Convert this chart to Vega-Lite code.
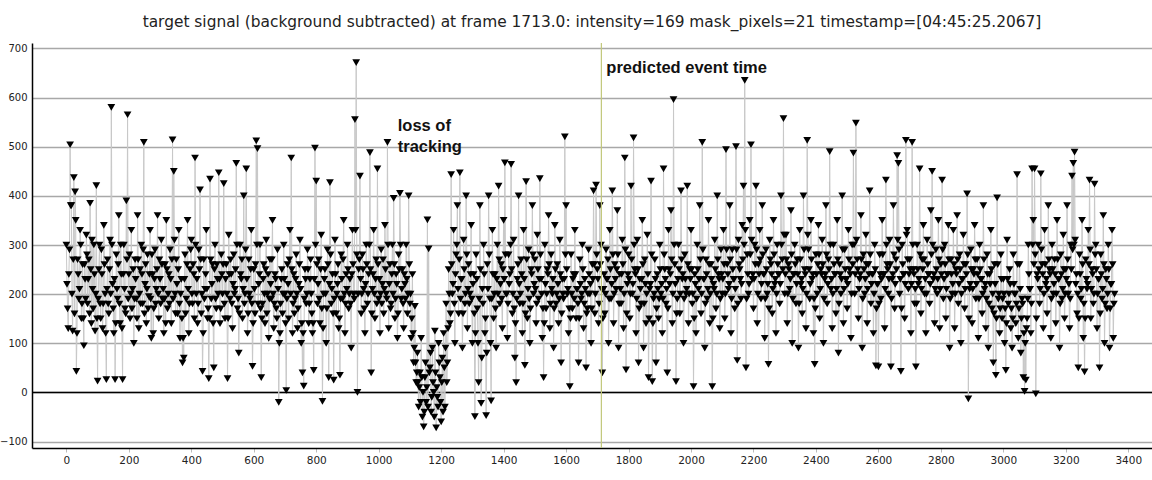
{
  "$schema": "https://vega.github.io/schema/vega-lite/v6.json",
  "description": "target signal with event marker",
  "autosize": {"type": "none"},
  "padding": {"left": 32, "top": 43, "right": 0, "bottom": 32},
  "width": 1120,
  "height": 405,
  "background": "white",
  "title": {
    "text": "target signal (background subtracted) at frame 1713.0: intensity=169 mask_pixels=21 timestamp=[04:45:25.2067]",
    "font": "DejaVu Sans",
    "fontSize": 15.4,
    "fontWeight": "normal",
    "color": "#222222",
    "anchor": "middle",
    "offset": 12
  },
  "datasets": {
    "signal": [
      {"f":0,"v":300},{"f":4,"v":170},{"f":8,"v":240},{"f":12,"v":504},{"f":16,"v":380},{"f":20,"v":125},{"f":24,"v":437},{"f":28,"v":408},{"f":32,"v":43},{"f":36,"v":270},{"f":40,"v":190},{"f":44,"v":330},{"f":48,"v":150},{"f":52,"v":260},{"f":56,"v":95},{"f":60,"v":230},{"f":64,"v":320},{"f":68,"v":180},{"f":72,"v":270},{"f":76,"v":385},{"f":80,"v":140},{"f":84,"v":210},{"f":88,"v":300},{"f":92,"v":125},{"f":96,"v":421},
      {"f":100,"v":23},{"f":104,"v":250},{"f":108,"v":180},{"f":112,"v":290},{"f":116,"v":130},{"f":120,"v":340},{"f":124,"v":200},{"f":128,"v":26},{"f":132,"v":270},{"f":136,"v":160},{"f":140,"v":310},{"f":144,"v":580},{"f":148,"v":220},{"f":152,"v":120},{"f":156,"v":26},{"f":160,"v":280},{"f":164,"v":190},{"f":168,"v":360},{"f":172,"v":140},{"f":176,"v":240},{"f":180,"v":26},{"f":184,"v":300},{"f":188,"v":170},{"f":192,"v":390},{"f":196,"v":565},
      {"f":200,"v":240},{"f":204,"v":150},{"f":208,"v":330},{"f":212,"v":210},{"f":216,"v":100},{"f":220,"v":270},{"f":224,"v":190},{"f":228,"v":360},{"f":232,"v":130},{"f":236,"v":250},{"f":240,"v":300},{"f":244,"v":180},{"f":248,"v":509},{"f":252,"v":220},{"f":256,"v":140},{"f":260,"v":280},{"f":264,"v":195},{"f":268,"v":330},{"f":272,"v":110},{"f":276,"v":240},{"f":280,"v":170},{"f":284,"v":290},{"f":288,"v":210},{"f":292,"v":360},{"f":296,"v":150},
      {"f":300,"v":230},{"f":304,"v":310},{"f":308,"v":190},{"f":312,"v":120},{"f":316,"v":260},{"f":320,"v":350},{"f":324,"v":170},{"f":328,"v":240},{"f":332,"v":290},{"f":336,"v":140},{"f":340,"v":514},{"f":344,"v":450},{"f":348,"v":200},{"f":352,"v":270},{"f":356,"v":160},{"f":360,"v":330},{"f":364,"v":110},{"f":368,"v":230},{"f":372,"v":60},{"f":376,"v":70},{"f":380,"v":280},{"f":384,"v":190},{"f":388,"v":350},{"f":392,"v":120},{"f":396,"v":250},
      {"f":400,"v":310},{"f":404,"v":180},{"f":408,"v":240},{"f":412,"v":477},{"f":416,"v":200},{"f":420,"v":140},{"f":424,"v":290},{"f":428,"v":412},{"f":432,"v":160},{"f":436,"v":43},{"f":440,"v":270},{"f":444,"v":210},{"f":448,"v":330},{"f":452,"v":150},{"f":456,"v":28},{"f":460,"v":434},{"f":464,"v":190},{"f":468,"v":260},{"f":472,"v":50},{"f":476,"v":300},{"f":480,"v":170},{"f":484,"v":230},{"f":488,"v":447},{"f":492,"v":140},{"f":496,"v":280},
      {"f":500,"v":200},{"f":504,"v":425},{"f":508,"v":150},{"f":512,"v":260},{"f":516,"v":28},{"f":520,"v":320},{"f":524,"v":190},{"f":528,"v":240},{"f":532,"v":130},{"f":536,"v":280},{"f":540,"v":210},{"f":544,"v":466},{"f":548,"v":170},{"f":552,"v":80},{"f":556,"v":300},{"f":560,"v":230},{"f":564,"v":150},{"f":568,"v":400},{"f":572,"v":200},{"f":576,"v":455},{"f":580,"v":120},{"f":584,"v":270},{"f":588,"v":190},{"f":592,"v":330},{"f":596,"v":53},
      {"f":600,"v":250},{"f":604,"v":160},{"f":608,"v":512},{"f":612,"v":496},{"f":616,"v":220},{"f":620,"v":300},{"f":624,"v":30},{"f":628,"v":180},{"f":632,"v":260},{"f":636,"v":140},{"f":640,"v":310},{"f":644,"v":200},{"f":648,"v":110},{"f":652,"v":270},{"f":656,"v":190},{"f":660,"v":350},{"f":664,"v":130},{"f":668,"v":240},{"f":672,"v":170},{"f":676,"v":290},{"f":680,"v":-20},{"f":684,"v":120},{"f":688,"v":230},{"f":692,"v":160},{"f":696,"v":300},
      {"f":700,"v":200},{"f":704,"v":4},{"f":708,"v":260},{"f":712,"v":150},{"f":716,"v":330},{"f":720,"v":477},{"f":724,"v":120},{"f":728,"v":240},{"f":732,"v":190},{"f":736,"v":280},{"f":740,"v":130},{"f":744,"v":220},{"f":748,"v":310},{"f":752,"v":100},{"f":756,"v":40},{"f":760,"v":13},{"f":764,"v":250},{"f":768,"v":180},{"f":772,"v":290},{"f":776,"v":140},{"f":780,"v":230},{"f":784,"v":200},{"f":788,"v":120},{"f":792,"v":45},{"f":796,"v":497},
      {"f":800,"v":430},{"f":804,"v":180},{"f":808,"v":270},{"f":812,"v":140},{"f":816,"v":320},{"f":820,"v":-18},{"f":824,"v":200},{"f":828,"v":250},{"f":832,"v":100},{"f":836,"v":290},{"f":840,"v":30},{"f":844,"v":427},{"f":848,"v":180},{"f":852,"v":240},{"f":856,"v":25},{"f":860,"v":310},{"f":864,"v":160},{"f":868,"v":220},{"f":872,"v":130},{"f":876,"v":35},{"f":880,"v":280},{"f":884,"v":190},{"f":888,"v":350},{"f":892,"v":120},{"f":896,"v":240},
      {"f":900,"v":300},{"f":904,"v":170},{"f":908,"v":230},{"f":912,"v":90},{"f":916,"v":330},{"f":920,"v":200},{"f":924,"v":555},{"f":928,"v":671},{"f":932,"v":0},{"f":936,"v":250},{"f":940,"v":440},{"f":944,"v":160},{"f":948,"v":280},{"f":952,"v":210},{"f":956,"v":120},{"f":960,"v":300},{"f":964,"v":180},{"f":968,"v":240},{"f":972,"v":488},{"f":976,"v":40},{"f":980,"v":210},{"f":984,"v":330},{"f":988,"v":150},{"f":992,"v":270},{"f":996,"v":455},
      {"f":1000,"v":190},{"f":1004,"v":120},{"f":1008,"v":290},{"f":1012,"v":220},{"f":1016,"v":160},{"f":1020,"v":340},{"f":1024,"v":200},{"f":1028,"v":509},{"f":1032,"v":130},{"f":1036,"v":260},{"f":1040,"v":180},{"f":1044,"v":300},{"f":1048,"v":395},{"f":1052,"v":150},{"f":1056,"v":240},{"f":1060,"v":110},{"f":1064,"v":280},{"f":1068,"v":405},{"f":1072,"v":190},{"f":1076,"v":250},{"f":1080,"v":130},{"f":1084,"v":220},{"f":1088,"v":300},{"f":1092,"v":160},{"f":1096,"v":400},
      {"f":1100,"v":180},{"f":1104,"v":110},{"f":1108,"v":240},{"f":1112,"v":60},{"f":1116,"v":175},{"f":1120,"v":20},{"f":1124,"v":80},{"f":1128,"v":-30},{"f":1132,"v":40},{"f":1136,"v":110},{"f":1140,"v":-50},{"f":1144,"v":-70},{"f":1148,"v":30},{"f":1152,"v":-20},{"f":1156,"v":351},{"f":1160,"v":292},{"f":1164,"v":50},{"f":1168,"v":-40},{"f":1172,"v":90},{"f":1176,"v":0},{"f":1180,"v":125},{"f":1184,"v":-72},{"f":1188,"v":-10},{"f":1192,"v":100},{"f":1196,"v":30},
      {"f":1200,"v":-60},{"f":1204,"v":70},{"f":1208,"v":120},{"f":1212,"v":-30},{"f":1216,"v":180},{"f":1220,"v":60},{"f":1224,"v":250},{"f":1228,"v":140},{"f":1232,"v":443},{"f":1236,"v":200},{"f":1240,"v":330},{"f":1244,"v":100},{"f":1248,"v":280},{"f":1252,"v":380},{"f":1256,"v":160},{"f":1260,"v":447},{"f":1264,"v":230},{"f":1268,"v":90},{"f":1272,"v":310},{"f":1276,"v":180},{"f":1280,"v":400},{"f":1284,"v":130},{"f":1288,"v":260},{"f":1292,"v":200},{"f":1296,"v":340},
      {"f":1300,"v":100},{"f":1304,"v":240},{"f":1308,"v":-49},{"f":1312,"v":280},{"f":1316,"v":170},{"f":1320,"v":20},{"f":1324,"v":380},{"f":1328,"v":-22},{"f":1332,"v":210},{"f":1336,"v":300},{"f":1340,"v":120},{"f":1344,"v":-47},{"f":1348,"v":260},{"f":1352,"v":400},{"f":1356,"v":190},{"f":1360,"v":-17},{"f":1364,"v":330},{"f":1368,"v":150},{"f":1372,"v":240},{"f":1376,"v":90},{"f":1380,"v":300},{"f":1384,"v":420},{"f":1388,"v":180},{"f":1392,"v":260},{"f":1396,"v":130},
      {"f":1400,"v":350},{"f":1404,"v":467},{"f":1408,"v":200},{"f":1412,"v":110},{"f":1416,"v":280},{"f":1420,"v":240},{"f":1424,"v":464},{"f":1428,"v":160},{"f":1432,"v":310},{"f":1436,"v":70},{"f":1440,"v":20},{"f":1444,"v":230},{"f":1448,"v":400},{"f":1452,"v":180},{"f":1456,"v":270},{"f":1460,"v":120},{"f":1464,"v":330},{"f":1468,"v":55},{"f":1472,"v":429},{"f":1476,"v":150},{"f":1480,"v":290},{"f":1484,"v":100},{"f":1488,"v":250},{"f":1492,"v":380},{"f":1496,"v":200},
      {"f":1500,"v":270},{"f":1504,"v":140},{"f":1508,"v":320},{"f":1512,"v":190},{"f":1516,"v":435},{"f":1520,"v":230},{"f":1524,"v":110},{"f":1528,"v":30},{"f":1532,"v":300},{"f":1536,"v":170},{"f":1540,"v":250},{"f":1544,"v":360},{"f":1548,"v":130},{"f":1552,"v":280},{"f":1556,"v":200},{"f":1560,"v":90},{"f":1564,"v":340},{"f":1568,"v":180},{"f":1572,"v":260},{"f":1576,"v":140},{"f":1580,"v":310},{"f":1584,"v":60},{"f":1588,"v":230},{"f":1592,"v":190},{"f":1596,"v":520},
      {"f":1600,"v":380},{"f":1604,"v":200},{"f":1608,"v":120},{"f":1612,"v":12},{"f":1616,"v":280},{"f":1620,"v":170},{"f":1624,"v":240},{"f":1628,"v":330},{"f":1632,"v":150},{"f":1636,"v":210},{"f":1640,"v":60},{"f":1644,"v":270},{"f":1648,"v":190},{"f":1652,"v":300},{"f":1656,"v":130},{"f":1660,"v":230},{"f":1664,"v":50},{"f":1668,"v":170},{"f":1672,"v":290},{"f":1676,"v":200},{"f":1680,"v":100},{"f":1684,"v":260},{"f":1688,"v":410},{"f":1692,"v":160},{"f":1696,"v":422},
      {"f":1700,"v":250},{"f":1704,"v":140},{"f":1708,"v":380},{"f":1712,"v":300},{"f":1716,"v":40},{"f":1720,"v":210},{"f":1724,"v":160},{"f":1728,"v":290},{"f":1732,"v":230},{"f":1736,"v":100},{"f":1740,"v":330},{"f":1744,"v":190},{"f":1748,"v":410},{"f":1752,"v":140},{"f":1756,"v":260},{"f":1760,"v":210},{"f":1764,"v":370},{"f":1768,"v":90},{"f":1772,"v":240},{"f":1776,"v":180},{"f":1780,"v":310},{"f":1784,"v":130},{"f":1788,"v":477},{"f":1792,"v":46},{"f":1796,"v":220},
      {"f":1800,"v":280},{"f":1804,"v":150},{"f":1808,"v":420},{"f":1812,"v":200},{"f":1816,"v":518},{"f":1820,"v":250},{"f":1824,"v":120},{"f":1828,"v":310},{"f":1832,"v":60},{"f":1836,"v":230},{"f":1840,"v":180},{"f":1844,"v":350},{"f":1848,"v":90},{"f":1852,"v":270},{"f":1856,"v":140},{"f":1860,"v":320},{"f":1864,"v":30},{"f":1868,"v":210},{"f":1872,"v":430},{"f":1876,"v":22},{"f":1880,"v":190},{"f":1884,"v":270},{"f":1888,"v":60},{"f":1892,"v":240},{"f":1896,"v":150},
      {"f":1900,"v":300},{"f":1904,"v":200},{"f":1908,"v":120},{"f":1912,"v":455},{"f":1916,"v":250},{"f":1920,"v":180},{"f":1924,"v":40},{"f":1928,"v":330},{"f":1932,"v":220},{"f":1936,"v":370},{"f":1940,"v":140},{"f":1944,"v":596},{"f":1948,"v":260},{"f":1952,"v":22},{"f":1956,"v":190},{"f":1960,"v":300},{"f":1964,"v":160},{"f":1968,"v":410},{"f":1972,"v":230},{"f":1976,"v":100},{"f":1980,"v":280},{"f":1984,"v":200},{"f":1988,"v":420},{"f":1992,"v":140},{"f":1996,"v":250},
      {"f":2000,"v":330},{"f":2004,"v":180},{"f":2008,"v":12},{"f":2012,"v":240},{"f":2016,"v":120},{"f":2020,"v":300},{"f":2024,"v":210},{"f":2028,"v":380},{"f":2032,"v":160},{"f":2036,"v":509},{"f":2040,"v":230},{"f":2044,"v":90},{"f":2048,"v":270},{"f":2052,"v":190},{"f":2056,"v":350},{"f":2060,"v":140},{"f":2064,"v":260},{"f":2068,"v":12},{"f":2072,"v":220},{"f":2076,"v":310},{"f":2080,"v":170},{"f":2084,"v":400},{"f":2088,"v":240},{"f":2092,"v":130},{"f":2096,"v":290},
      {"f":2100,"v":200},{"f":2104,"v":330},{"f":2108,"v":150},{"f":2112,"v":494},{"f":2116,"v":260},{"f":2120,"v":210},{"f":2124,"v":380},{"f":2128,"v":120},{"f":2132,"v":290},{"f":2136,"v":230},{"f":2140,"v":170},{"f":2144,"v":500},{"f":2148,"v":65},{"f":2152,"v":310},{"f":2156,"v":250},{"f":2160,"v":190},{"f":2164,"v":340},{"f":2168,"v":420},{"f":2172,"v":635},{"f":2176,"v":50},{"f":2180,"v":280},{"f":2184,"v":200},{"f":2188,"v":350},{"f":2192,"v":504},{"f":2196,"v":230},
      {"f":2200,"v":170},{"f":2204,"v":300},{"f":2208,"v":420},{"f":2212,"v":140},{"f":2216,"v":260},{"f":2220,"v":330},{"f":2224,"v":190},{"f":2228,"v":380},{"f":2232,"v":240},{"f":2236,"v":110},{"f":2240,"v":290},{"f":2244,"v":200},{"f":2248,"v":57},{"f":2252,"v":310},{"f":2256,"v":260},{"f":2260,"v":160},{"f":2264,"v":350},{"f":2268,"v":220},{"f":2272,"v":120},{"f":2276,"v":300},{"f":2280,"v":240},{"f":2284,"v":180},{"f":2288,"v":400},{"f":2292,"v":270},{"f":2296,"v":557},
      {"f":2300,"v":200},{"f":2304,"v":320},{"f":2308,"v":140},{"f":2312,"v":260},{"f":2316,"v":210},{"f":2320,"v":370},{"f":2324,"v":100},{"f":2328,"v":240},{"f":2332,"v":300},{"f":2336,"v":180},{"f":2340,"v":270},{"f":2344,"v":90},{"f":2348,"v":330},{"f":2352,"v":220},{"f":2356,"v":160},{"f":2360,"v":400},{"f":2364,"v":250},{"f":2368,"v":130},{"f":2372,"v":513},{"f":2376,"v":290},{"f":2380,"v":190},{"f":2384,"v":350},{"f":2388,"v":230},{"f":2392,"v":120},{"f":2396,"v":57},
      {"f":2400,"v":280},{"f":2404,"v":200},{"f":2408,"v":340},{"f":2412,"v":150},{"f":2416,"v":250},{"f":2420,"v":310},{"f":2424,"v":100},{"f":2428,"v":230},{"f":2432,"v":380},{"f":2436,"v":180},{"f":2440,"v":270},{"f":2444,"v":490},{"f":2448,"v":210},{"f":2452,"v":130},{"f":2456,"v":300},{"f":2460,"v":240},{"f":2464,"v":160},{"f":2468,"v":350},{"f":2472,"v":80},{"f":2476,"v":260},{"f":2480,"v":200},{"f":2484,"v":400},{"f":2488,"v":140},{"f":2492,"v":290},{"f":2496,"v":230},
      {"f":2500,"v":170},{"f":2504,"v":330},{"f":2508,"v":250},{"f":2512,"v":110},{"f":2516,"v":300},{"f":2520,"v":487},{"f":2524,"v":200},{"f":2528,"v":548},{"f":2532,"v":270},{"f":2536,"v":150},{"f":2540,"v":230},{"f":2544,"v":360},{"f":2548,"v":90},{"f":2552,"v":280},{"f":2556,"v":200},{"f":2560,"v":320},{"f":2564,"v":140},{"f":2568,"v":260},{"f":2572,"v":410},{"f":2576,"v":180},{"f":2580,"v":240},{"f":2584,"v":120},{"f":2588,"v":300},{"f":2592,"v":54},{"f":2596,"v":220},
      {"f":2600,"v":52},{"f":2604,"v":280},{"f":2608,"v":190},{"f":2612,"v":350},{"f":2616,"v":240},{"f":2620,"v":130},{"f":2624,"v":432},{"f":2628,"v":260},{"f":2632,"v":200},{"f":2636,"v":310},{"f":2640,"v":52},{"f":2644,"v":230},{"f":2648,"v":380},{"f":2652,"v":170},{"f":2656,"v":270},{"f":2660,"v":482},{"f":2664,"v":466},{"f":2668,"v":200},{"f":2672,"v":43},{"f":2676,"v":300},{"f":2680,"v":240},{"f":2684,"v":150},{"f":2688,"v":513},{"f":2692,"v":330},{"f":2696,"v":210},
      {"f":2700,"v":270},{"f":2704,"v":120},{"f":2708,"v":509},{"f":2712,"v":250},{"f":2716,"v":180},{"f":2720,"v":52},{"f":2724,"v":300},{"f":2728,"v":220},{"f":2732,"v":455},{"f":2736,"v":160},{"f":2740,"v":270},{"f":2744,"v":340},{"f":2748,"v":200},{"f":2752,"v":120},{"f":2756,"v":310},{"f":2760,"v":240},{"f":2764,"v":180},{"f":2768,"v":370},{"f":2772,"v":450},{"f":2776,"v":230},{"f":2780,"v":140},{"f":2784,"v":290},{"f":2788,"v":200},{"f":2792,"v":350},{"f":2796,"v":130},
      {"f":2800,"v":260},{"f":2804,"v":432},{"f":2808,"v":190},{"f":2812,"v":300},{"f":2816,"v":150},{"f":2820,"v":240},{"f":2824,"v":340},{"f":2828,"v":90},{"f":2832,"v":270},{"f":2836,"v":200},{"f":2840,"v":330},{"f":2844,"v":130},{"f":2848,"v":250},{"f":2852,"v":360},{"f":2856,"v":180},{"f":2860,"v":280},{"f":2864,"v":100},{"f":2868,"v":230},{"f":2872,"v":320},{"f":2876,"v":170},{"f":2880,"v":260},{"f":2884,"v":404},{"f":2888,"v":-13},{"f":2892,"v":210},{"f":2896,"v":290},
      {"f":2900,"v":140},{"f":2904,"v":250},{"f":2908,"v":340},{"f":2912,"v":190},{"f":2916,"v":270},{"f":2920,"v":110},{"f":2924,"v":300},{"f":2928,"v":230},{"f":2932,"v":160},{"f":2936,"v":380},{"f":2940,"v":210},{"f":2944,"v":130},{"f":2948,"v":280},{"f":2952,"v":90},{"f":2956,"v":240},{"f":2960,"v":330},{"f":2964,"v":170},{"f":2968,"v":60},{"f":2972,"v":260},{"f":2976,"v":35},{"f":2980,"v":396},{"f":2984,"v":190},{"f":2988,"v":120},{"f":2992,"v":280},{"f":2996,"v":150},
      {"f":3000,"v":230},{"f":3004,"v":100},{"f":3008,"v":45},{"f":3012,"v":310},{"f":3016,"v":180},{"f":3020,"v":250},{"f":3024,"v":130},{"f":3028,"v":90},{"f":3032,"v":280},{"f":3036,"v":200},{"f":3040,"v":140},{"f":3044,"v":443},{"f":3048,"v":110},{"f":3052,"v":260},{"f":3056,"v":80},{"f":3060,"v":190},{"f":3064,"v":30},{"f":3068,"v":2},{"f":3072,"v":25},{"f":3076,"v":150},{"f":3080,"v":300},{"f":3084,"v":210},{"f":3088,"v":120},{"f":3092,"v":455},{"f":3096,"v":350},
      {"f":3100,"v":455},{"f":3104,"v":-3},{"f":3108,"v":240},{"f":3112,"v":300},{"f":3116,"v":180},{"f":3120,"v":445},{"f":3124,"v":260},{"f":3128,"v":130},{"f":3132,"v":330},{"f":3136,"v":220},{"f":3140,"v":160},{"f":3144,"v":380},{"f":3148,"v":250},{"f":3152,"v":110},{"f":3156,"v":300},{"f":3160,"v":200},{"f":3164,"v":270},{"f":3168,"v":140},{"f":3172,"v":350},{"f":3176,"v":230},{"f":3180,"v":90},{"f":3184,"v":280},{"f":3188,"v":190},{"f":3192,"v":320},{"f":3196,"v":150},
      {"f":3200,"v":250},{"f":3204,"v":380},{"f":3208,"v":200},{"f":3212,"v":130},{"f":3216,"v":300},{"f":3220,"v":440},{"f":3224,"v":466},{"f":3228,"v":489},{"f":3232,"v":220},{"f":3236,"v":160},{"f":3240,"v":50},{"f":3244,"v":280},{"f":3248,"v":190},{"f":3252,"v":350},{"f":3256,"v":110},{"f":3260,"v":42},{"f":3264,"v":270},{"f":3268,"v":210},{"f":3272,"v":330},{"f":3276,"v":432},{"f":3280,"v":150},{"f":3284,"v":250},{"f":3288,"v":180},{"f":3292,"v":424},{"f":3296,"v":300},
      {"f":3300,"v":130},{"f":3304,"v":230},{"f":3308,"v":50},{"f":3312,"v":280},{"f":3316,"v":190},{"f":3320,"v":360},{"f":3324,"v":100},{"f":3328,"v":250},{"f":3332,"v":170},{"f":3336,"v":300},{"f":3340,"v":90},{"f":3344,"v":220},{"f":3348,"v":330},{"f":3352,"v":110},{"f":3356,"v":200},
      {"f":2,"v":220},{"f":6,"v":130},{"f":10,"v":290},{"f":14,"v":380},{"f":18,"v":200},{"f":22,"v":270},{"f":26,"v":160},{"f":30,"v":350},{"f":34,"v":120},{"f":38,"v":240},{"f":42,"v":210},{"f":46,"v":300},{"f":50,"v":180},{"f":54,"v":150},{"f":58,"v":260},{"f":62,"v":190},{"f":66,"v":280},{"f":70,"v":230},{"f":74,"v":160},{"f":78,"v":250},{"f":82,"v":310},{"f":86,"v":170},{"f":90,"v":240},{"f":94,"v":200},{"f":98,"v":150},
      {"f":102,"v":190},{"f":106,"v":300},{"f":110,"v":150},{"f":114,"v":240},{"f":118,"v":180},{"f":122,"v":260},{"f":126,"v":120},{"f":130,"v":210},{"f":134,"v":180},{"f":138,"v":250},{"f":142,"v":200},{"f":146,"v":300},{"f":150,"v":170},{"f":154,"v":230},{"f":158,"v":140},{"f":162,"v":210},{"f":166,"v":260},{"f":170,"v":180},{"f":174,"v":300},{"f":178,"v":130},{"f":182,"v":240},{"f":186,"v":210},{"f":190,"v":160},{"f":194,"v":270},{"f":198,"v":190},
      {"f":202,"v":280},{"f":206,"v":200},{"f":210,"v":170},{"f":214,"v":250},{"f":218,"v":190},{"f":222,"v":230},{"f":226,"v":150},{"f":230,"v":270},{"f":234,"v":200},{"f":238,"v":180},{"f":242,"v":240},{"f":246,"v":290},{"f":250,"v":160},{"f":254,"v":260},{"f":258,"v":210},{"f":262,"v":170},{"f":266,"v":240},{"f":270,"v":190},{"f":274,"v":280},{"f":278,"v":120},{"f":282,"v":230},{"f":286,"v":180},{"f":290,"v":250},{"f":294,"v":200},{"f":298,"v":270},
      {"f":302,"v":180},{"f":306,"v":260},{"f":310,"v":210},{"f":314,"v":190},{"f":318,"v":140},{"f":322,"v":250},{"f":326,"v":200},{"f":330,"v":180},{"f":334,"v":230},{"f":338,"v":270},{"f":342,"v":190},{"f":346,"v":310},{"f":350,"v":160},{"f":354,"v":220},{"f":358,"v":250},{"f":362,"v":180},{"f":366,"v":200},{"f":370,"v":150},{"f":374,"v":110},{"f":378,"v":230},{"f":382,"v":160},{"f":386,"v":260},{"f":390,"v":210},{"f":394,"v":180},{"f":398,"v":290},
      {"f":402,"v":200},{"f":406,"v":260},{"f":410,"v":150},{"f":414,"v":300},{"f":418,"v":230},{"f":422,"v":180},{"f":426,"v":250},{"f":430,"v":270},{"f":434,"v":200},{"f":438,"v":120},{"f":442,"v":190},{"f":446,"v":240},{"f":450,"v":210},{"f":454,"v":170},{"f":458,"v":150},{"f":462,"v":270},{"f":466,"v":220},{"f":470,"v":140},{"f":474,"v":250},{"f":478,"v":190},{"f":482,"v":260},{"f":486,"v":200},{"f":490,"v":230},{"f":494,"v":170},{"f":498,"v":240},
      {"f":502,"v":260},{"f":506,"v":180},{"f":510,"v":230},{"f":514,"v":200},{"f":518,"v":150},{"f":522,"v":240},{"f":526,"v":270},{"f":530,"v":180},{"f":534,"v":220},{"f":538,"v":200},{"f":542,"v":250},{"f":546,"v":300},{"f":550,"v":190},{"f":554,"v":160},{"f":558,"v":240},{"f":562,"v":270},{"f":566,"v":210},{"f":570,"v":180},{"f":574,"v":290},{"f":578,"v":230},{"f":582,"v":160},{"f":586,"v":200},{"f":590,"v":250},{"f":594,"v":180},{"f":598,"v":140},
      {"f":602,"v":210},{"f":606,"v":260},{"f":610,"v":300},{"f":614,"v":180},{"f":618,"v":240},{"f":622,"v":170},{"f":626,"v":150},{"f":630,"v":230},{"f":634,"v":200},{"f":638,"v":250},{"f":642,"v":160},{"f":646,"v":240},{"f":650,"v":190},{"f":654,"v":220},{"f":658,"v":270},{"f":662,"v":200},{"f":666,"v":180},{"f":670,"v":230},{"f":674,"v":150},{"f":678,"v":210},{"f":682,"v":100},{"f":686,"v":180},{"f":690,"v":250},{"f":694,"v":200},{"f":698,"v":230},
      {"f":702,"v":140},{"f":706,"v":190},{"f":710,"v":220},{"f":714,"v":270},{"f":718,"v":200},{"f":722,"v":250},{"f":726,"v":180},{"f":730,"v":160},{"f":734,"v":230},{"f":738,"v":200},{"f":742,"v":170},{"f":746,"v":260},{"f":750,"v":210},{"f":754,"v":140},{"f":758,"v":120},{"f":762,"v":190},{"f":766,"v":230},{"f":770,"v":200},{"f":774,"v":250},{"f":778,"v":180},{"f":782,"v":270},{"f":786,"v":160},{"f":790,"v":140},{"f":794,"v":230},{"f":798,"v":300},
      {"f":802,"v":260},{"f":806,"v":220},{"f":810,"v":190},{"f":814,"v":250},{"f":818,"v":170},{"f":822,"v":130},{"f":826,"v":230},{"f":830,"v":200},{"f":834,"v":170},{"f":838,"v":260},{"f":842,"v":220},{"f":846,"v":280},{"f":850,"v":210},{"f":854,"v":160},{"f":858,"v":190},{"f":862,"v":240},{"f":866,"v":200},{"f":870,"v":260},{"f":874,"v":150},{"f":878,"v":190},{"f":882,"v":230},{"f":886,"v":270},{"f":890,"v":200},{"f":894,"v":180},{"f":898,"v":210},
      {"f":902,"v":250},{"f":906,"v":200},{"f":910,"v":180},{"f":914,"v":240},{"f":918,"v":260},{"f":922,"v":190},{"f":926,"v":330},{"f":930,"v":280},{"f":934,"v":200},{"f":938,"v":270},{"f":942,"v":230},{"f":946,"v":200},{"f":950,"v":250},{"f":954,"v":170},{"f":958,"v":220},{"f":962,"v":260},{"f":966,"v":200},{"f":970,"v":300},{"f":974,"v":250},{"f":978,"v":160},{"f":982,"v":240},{"f":986,"v":200},{"f":990,"v":230},{"f":994,"v":180},{"f":998,"v":260},
      {"f":1002,"v":230},{"f":1006,"v":200},{"f":1010,"v":180},{"f":1014,"v":270},{"f":1018,"v":210},{"f":1022,"v":250},{"f":1026,"v":190},{"f":1030,"v":300},{"f":1034,"v":220},{"f":1038,"v":170},{"f":1042,"v":240},{"f":1046,"v":200},{"f":1050,"v":260},{"f":1054,"v":190},{"f":1058,"v":220},{"f":1062,"v":160},{"f":1066,"v":250},{"f":1070,"v":300},{"f":1074,"v":210},{"f":1078,"v":180},{"f":1082,"v":240},{"f":1086,"v":190},{"f":1090,"v":230},{"f":1094,"v":200},{"f":1098,"v":260},
      {"f":1102,"v":200},{"f":1106,"v":150},{"f":1110,"v":120},{"f":1114,"v":90},{"f":1118,"v":60},{"f":1122,"v":40},{"f":1126,"v":20},{"f":1130,"v":10},{"f":1134,"v":-20},{"f":1138,"v":30},{"f":1142,"v":0},{"f":1146,"v":-40},{"f":1150,"v":60},{"f":1154,"v":10},{"f":1158,"v":-30},{"f":1162,"v":40},{"f":1166,"v":80},{"f":1170,"v":-10},{"f":1174,"v":20},{"f":1178,"v":-50},{"f":1182,"v":40},{"f":1186,"v":10},{"f":1190,"v":-30},{"f":1194,"v":60},{"f":1198,"v":-20},
      {"f":1202,"v":20},{"f":1206,"v":-40},{"f":1210,"v":50},{"f":1214,"v":90},{"f":1218,"v":20},{"f":1222,"v":130},{"f":1226,"v":200},{"f":1230,"v":160},{"f":1234,"v":260},{"f":1238,"v":220},{"f":1242,"v":180},{"f":1246,"v":240},{"f":1250,"v":300},{"f":1254,"v":210},{"f":1258,"v":270},{"f":1262,"v":190},{"f":1266,"v":230},{"f":1270,"v":160},{"f":1274,"v":250},{"f":1278,"v":200},{"f":1282,"v":280},{"f":1286,"v":210},{"f":1290,"v":180},{"f":1294,"v":240},{"f":1298,"v":190},
      {"f":1302,"v":220},{"f":1306,"v":160},{"f":1310,"v":120},{"f":1314,"v":230},{"f":1318,"v":100},{"f":1322,"v":190},{"f":1326,"v":250},{"f":1330,"v":70},{"f":1334,"v":180},{"f":1338,"v":240},{"f":1342,"v":150},{"f":1346,"v":80},{"f":1350,"v":210},{"f":1354,"v":280},{"f":1358,"v":100},{"f":1362,"v":190},{"f":1366,"v":240},{"f":1370,"v":200},{"f":1374,"v":170},{"f":1378,"v":230},{"f":1382,"v":200},{"f":1386,"v":270},{"f":1390,"v":220},{"f":1394,"v":190},{"f":1398,"v":250},
      {"f":1402,"v":230},{"f":1406,"v":280},{"f":1410,"v":200},{"f":1414,"v":180},{"f":1418,"v":220},{"f":1422,"v":300},{"f":1426,"v":250},{"f":1430,"v":200},{"f":1434,"v":170},{"f":1438,"v":140},{"f":1442,"v":190},{"f":1446,"v":260},{"f":1450,"v":220},{"f":1454,"v":200},{"f":1458,"v":240},{"f":1462,"v":180},{"f":1466,"v":230},{"f":1470,"v":160},{"f":1474,"v":270},{"f":1478,"v":210},{"f":1482,"v":190},{"f":1486,"v":170},{"f":1490,"v":240},{"f":1494,"v":280},{"f":1498,"v":220},
      {"f":1502,"v":210},{"f":1506,"v":180},{"f":1510,"v":250},{"f":1514,"v":230},{"f":1518,"v":280},{"f":1522,"v":200},{"f":1526,"v":170},{"f":1530,"v":140},{"f":1534,"v":220},{"f":1538,"v":200},{"f":1542,"v":240},{"f":1546,"v":260},{"f":1550,"v":180},{"f":1554,"v":210},{"f":1558,"v":230},{"f":1562,"v":170},{"f":1566,"v":250},{"f":1570,"v":200},{"f":1574,"v":220},{"f":1578,"v":190},{"f":1582,"v":240},{"f":1586,"v":160},{"f":1590,"v":200},{"f":1594,"v":230},{"f":1598,"v":280},
      {"f":1602,"v":250},{"f":1606,"v":210},{"f":1610,"v":170},{"f":1614,"v":150},{"f":1618,"v":200},{"f":1622,"v":230},{"f":1626,"v":190},{"f":1630,"v":240},{"f":1634,"v":210},{"f":1638,"v":180},{"f":1642,"v":150},{"f":1646,"v":220},{"f":1650,"v":200},{"f":1654,"v":250},{"f":1658,"v":180},{"f":1662,"v":210},{"f":1666,"v":160},{"f":1670,"v":200},{"f":1674,"v":240},{"f":1678,"v":220},{"f":1682,"v":170},{"f":1686,"v":230},{"f":1690,"v":260},{"f":1694,"v":200},{"f":1698,"v":280},
      {"f":1702,"v":230},{"f":1706,"v":180},{"f":1710,"v":260},{"f":1714,"v":210},{"f":1718,"v":150},{"f":1722,"v":240},{"f":1726,"v":200},{"f":1730,"v":230},{"f":1734,"v":270},{"f":1738,"v":190},{"f":1742,"v":250},{"f":1746,"v":220},{"f":1750,"v":280},{"f":1754,"v":200},{"f":1758,"v":230},{"f":1762,"v":250},{"f":1766,"v":280},{"f":1770,"v":180},{"f":1774,"v":210},{"f":1778,"v":240},{"f":1782,"v":260},{"f":1786,"v":200},{"f":1790,"v":290},{"f":1794,"v":160},{"f":1798,"v":240},
      {"f":1802,"v":230},{"f":1806,"v":200},{"f":1810,"v":270},{"f":1814,"v":220},{"f":1818,"v":300},{"f":1822,"v":240},{"f":1826,"v":190},{"f":1830,"v":250},{"f":1834,"v":170},{"f":1838,"v":210},{"f":1842,"v":230},{"f":1846,"v":260},{"f":1850,"v":180},{"f":1854,"v":220},{"f":1858,"v":200},{"f":1862,"v":240},{"f":1866,"v":150},{"f":1870,"v":220},{"f":1874,"v":280},{"f":1878,"v":140},{"f":1882,"v":200},{"f":1886,"v":230},{"f":1890,"v":170},{"f":1894,"v":210},{"f":1898,"v":190},
      {"f":1902,"v":250},{"f":1906,"v":220},{"f":1910,"v":190},{"f":1914,"v":280},{"f":1918,"v":230},{"f":1922,"v":210},{"f":1926,"v":170},{"f":1930,"v":250},{"f":1934,"v":240},{"f":1938,"v":270},{"f":1942,"v":200},{"f":1946,"v":300},{"f":1950,"v":220},{"f":1954,"v":160},{"f":1958,"v":230},{"f":1962,"v":250},{"f":1966,"v":200},{"f":1970,"v":270},{"f":1974,"v":240},{"f":1978,"v":190},{"f":1982,"v":230},{"f":1986,"v":210},{"f":1990,"v":260},{"f":1994,"v":200},{"f":1998,"v":230},
      {"f":2002,"v":250},{"f":2006,"v":200},{"f":2010,"v":150},{"f":2014,"v":220},{"f":2018,"v":190},{"f":2022,"v":250},{"f":2026,"v":230},{"f":2030,"v":270},{"f":2034,"v":200},{"f":2038,"v":290},{"f":2042,"v":230},{"f":2046,"v":180},{"f":2050,"v":240},{"f":2054,"v":210},{"f":2058,"v":260},{"f":2062,"v":200},{"f":2066,"v":230},{"f":2070,"v":150},{"f":2074,"v":210},{"f":2078,"v":250},{"f":2082,"v":200},{"f":2086,"v":270},{"f":2090,"v":230},{"f":2094,"v":190},{"f":2098,"v":240},
      {"f":2102,"v":230},{"f":2106,"v":260},{"f":2110,"v":200},{"f":2114,"v":290},{"f":2118,"v":240},{"f":2122,"v":220},{"f":2126,"v":270},{"f":2130,"v":190},{"f":2134,"v":250},{"f":2138,"v":230},{"f":2142,"v":210},{"f":2146,"v":290},{"f":2150,"v":180},{"f":2154,"v":260},{"f":2158,"v":230},{"f":2162,"v":220},{"f":2166,"v":270},{"f":2170,"v":300},{"f":2174,"v":330},{"f":2178,"v":190},{"f":2182,"v":240},{"f":2186,"v":220},{"f":2190,"v":280},{"f":2194,"v":310},{"f":2198,"v":240},
      {"f":2202,"v":230},{"f":2206,"v":260},{"f":2210,"v":290},{"f":2214,"v":200},{"f":2218,"v":240},{"f":2222,"v":270},{"f":2226,"v":220},{"f":2230,"v":280},{"f":2234,"v":240},{"f":2238,"v":190},{"f":2242,"v":250},{"f":2246,"v":220},{"f":2250,"v":170},{"f":2254,"v":270},{"f":2258,"v":240},{"f":2262,"v":210},{"f":2266,"v":280},{"f":2270,"v":230},{"f":2274,"v":200},{"f":2278,"v":260},{"f":2282,"v":240},{"f":2286,"v":220},{"f":2290,"v":300},{"f":2294,"v":250},{"f":2298,"v":320},
      {"f":2302,"v":240},{"f":2306,"v":270},{"f":2310,"v":200},{"f":2314,"v":250},{"f":2318,"v":230},{"f":2322,"v":280},{"f":2326,"v":190},{"f":2330,"v":240},{"f":2334,"v":260},{"f":2338,"v":220},{"f":2342,"v":240},{"f":2346,"v":180},{"f":2350,"v":270},{"f":2354,"v":230},{"f":2358,"v":210},{"f":2362,"v":290},{"f":2366,"v":240},{"f":2370,"v":200},{"f":2374,"v":320},{"f":2378,"v":250},{"f":2382,"v":220},{"f":2386,"v":270},{"f":2390,"v":240},{"f":2394,"v":190},{"f":2398,"v":170},
      {"f":2402,"v":240},{"f":2406,"v":260},{"f":2410,"v":280},{"f":2414,"v":210},{"f":2418,"v":240},{"f":2422,"v":260},{"f":2426,"v":190},{"f":2430,"v":240},{"f":2434,"v":280},{"f":2438,"v":220},{"f":2442,"v":250},{"f":2446,"v":300},{"f":2450,"v":230},{"f":2454,"v":200},{"f":2458,"v":260},{"f":2462,"v":240},{"f":2466,"v":210},{"f":2470,"v":270},{"f":2474,"v":180},{"f":2478,"v":240},{"f":2482,"v":230},{"f":2486,"v":290},{"f":2490,"v":210},{"f":2494,"v":250},{"f":2498,"v":230},
      {"f":2502,"v":220},{"f":2506,"v":270},{"f":2510,"v":240},{"f":2514,"v":200},{"f":2518,"v":260},{"f":2522,"v":300},{"f":2526,"v":240},{"f":2530,"v":310},{"f":2534,"v":250},{"f":2538,"v":210},{"f":2542,"v":240},{"f":2546,"v":270},{"f":2550,"v":190},{"f":2554,"v":250},{"f":2558,"v":230},{"f":2562,"v":260},{"f":2566,"v":210},{"f":2570,"v":240},{"f":2574,"v":280},{"f":2578,"v":220},{"f":2582,"v":240},{"f":2586,"v":200},{"f":2590,"v":250},{"f":2594,"v":170},{"f":2598,"v":220},
      {"f":2602,"v":180},{"f":2606,"v":240},{"f":2610,"v":230},{"f":2614,"v":280},{"f":2618,"v":240},{"f":2622,"v":210},{"f":2626,"v":300},{"f":2630,"v":250},{"f":2634,"v":230},{"f":2638,"v":260},{"f":2642,"v":190},{"f":2646,"v":240},{"f":2650,"v":280},{"f":2654,"v":220},{"f":2658,"v":250},{"f":2662,"v":310},{"f":2666,"v":290},{"f":2670,"v":230},{"f":2674,"v":170},{"f":2678,"v":260},{"f":2682,"v":240},{"f":2686,"v":220},{"f":2690,"v":320},{"f":2694,"v":270},{"f":2698,"v":240},
      {"f":2702,"v":250},{"f":2706,"v":220},{"f":2710,"v":300},{"f":2714,"v":240},{"f":2718,"v":210},{"f":2722,"v":180},{"f":2726,"v":250},{"f":2730,"v":230},{"f":2734,"v":280},{"f":2738,"v":210},{"f":2742,"v":250},{"f":2746,"v":270},{"f":2750,"v":230},{"f":2754,"v":200},{"f":2758,"v":260},{"f":2762,"v":240},{"f":2766,"v":220},{"f":2770,"v":280},{"f":2774,"v":300},{"f":2778,"v":240},{"f":2782,"v":210},{"f":2786,"v":250},{"f":2790,"v":230},{"f":2794,"v":270},{"f":2798,"v":210},
      {"f":2802,"v":240},{"f":2806,"v":290},{"f":2810,"v":230},{"f":2814,"v":260},{"f":2818,"v":210},{"f":2822,"v":240},{"f":2826,"v":270},{"f":2830,"v":190},{"f":2834,"v":240},{"f":2838,"v":220},{"f":2842,"v":260},{"f":2846,"v":200},{"f":2850,"v":240},{"f":2854,"v":270},{"f":2858,"v":220},{"f":2862,"v":250},{"f":2866,"v":200},{"f":2870,"v":230},{"f":2874,"v":260},{"f":2878,"v":210},{"f":2882,"v":240},{"f":2886,"v":280},{"f":2890,"v":150},{"f":2894,"v":220},{"f":2898,"v":250},
      {"f":2902,"v":210},{"f":2906,"v":240},{"f":2910,"v":270},{"f":2914,"v":220},{"f":2918,"v":240},{"f":2922,"v":190},{"f":2926,"v":250},{"f":2930,"v":230},{"f":2934,"v":200},{"f":2938,"v":270},{"f":2942,"v":220},{"f":2946,"v":190},{"f":2950,"v":240},{"f":2954,"v":180},{"f":2958,"v":220},{"f":2962,"v":250},{"f":2966,"v":200},{"f":2970,"v":160},{"f":2974,"v":220},{"f":2978,"v":150},{"f":2982,"v":260},{"f":2986,"v":200},{"f":2990,"v":170},{"f":2994,"v":230},{"f":2998,"v":190},
      {"f":3002,"v":200},{"f":3006,"v":170},{"f":3010,"v":140},{"f":3014,"v":230},{"f":3018,"v":200},{"f":3022,"v":220},{"f":3026,"v":170},{"f":3030,"v":150},{"f":3034,"v":220},{"f":3038,"v":200},{"f":3042,"v":180},{"f":3046,"v":260},{"f":3050,"v":170},{"f":3054,"v":210},{"f":3058,"v":150},{"f":3062,"v":180},{"f":3066,"v":120},{"f":3070,"v":100},{"f":3074,"v":130},{"f":3078,"v":190},{"f":3082,"v":240},{"f":3086,"v":210},{"f":3090,"v":180},{"f":3094,"v":300},{"f":3098,"v":260},
      {"f":3102,"v":280},{"f":3106,"v":150},{"f":3110,"v":230},{"f":3114,"v":250},{"f":3118,"v":210},{"f":3122,"v":290},{"f":3126,"v":240},{"f":3130,"v":200},{"f":3134,"v":260},{"f":3138,"v":230},{"f":3142,"v":210},{"f":3146,"v":270},{"f":3150,"v":240},{"f":3154,"v":190},{"f":3158,"v":250},{"f":3162,"v":220},{"f":3166,"v":240},{"f":3170,"v":200},{"f":3174,"v":270},{"f":3178,"v":230},{"f":3182,"v":180},{"f":3186,"v":240},{"f":3190,"v":210},{"f":3194,"v":250},{"f":3198,"v":200},
      {"f":3202,"v":230},{"f":3206,"v":270},{"f":3210,"v":220},{"f":3214,"v":190},{"f":3218,"v":250},{"f":3222,"v":290},{"f":3226,"v":300},{"f":3230,"v":310},{"f":3234,"v":240},{"f":3238,"v":200},{"f":3242,"v":150},{"f":3246,"v":240},{"f":3250,"v":210},{"f":3254,"v":260},{"f":3258,"v":180},{"f":3262,"v":150},{"f":3266,"v":230},{"f":3270,"v":220},{"f":3274,"v":260},{"f":3278,"v":290},{"f":3282,"v":210},{"f":3286,"v":240},{"f":3290,"v":200},{"f":3294,"v":280},{"f":3298,"v":250},
      {"f":3302,"v":200},{"f":3306,"v":230},{"f":3310,"v":160},{"f":3314,"v":240},{"f":3318,"v":210},{"f":3322,"v":260},{"f":3326,"v":180},{"f":3330,"v":230},{"f":3334,"v":200},{"f":3338,"v":250},{"f":3342,"v":170},{"f":3346,"v":220},{"f":3350,"v":260},{"f":3354,"v":180}
    ],
    "notes": [
      {"f": 1061, "v": 531, "t": "loss of"},
      {"f": 1061, "v": 490, "t": "tracking"},
      {"f": 1729, "v": 650, "t": "predicted event time"}
    ]
  },
  "encoding": {
    "x": {
      "field": "f",
      "type": "quantitative",
      "scale": {"domain": [-110, 3476], "nice": false, "zero": false},
      "axis": {
        "title": null,
        "values": [0, 200, 400, 600, 800, 1000, 1200, 1400, 1600, 1800, 2000, 2200, 2400, 2600, 2800, 3000, 3200, 3400],
        "format": "d",
        "grid": false,
        "domainColor": "#000000",
        "domainWidth": 1.5,
        "tickColor": "#bbbbbb",
        "tickSize": 4,
        "labelFont": "DejaVu Sans",
        "labelFontSize": 10.5,
        "labelColor": "#222222",
        "labelPadding": 3
      }
    },
    "y": {
      "field": "v",
      "type": "quantitative",
      "scale": {"domain": [-113, 711], "nice": false, "zero": false},
      "axis": {
        "title": null,
        "values": [-100, 0, 100, 200, 300, 400, 500, 600, 700],
        "format": "d",
        "grid": true,
        "gridColor": "#a8a8a8",
        "gridWidth": 1.5,
        "ticks": false,
        "domainColor": "#000000",
        "domainWidth": 1.5,
        "labelFont": "DejaVu Sans",
        "labelFontSize": 10,
        "labelColor": "#222222",
        "labelPadding": 5
      }
    }
  },
  "layer": [
    {
      "data": {"values": [{"z": 0}]},
      "mark": {"type": "rule", "color": "#000000", "strokeWidth": 1.5},
      "encoding": {"y": {"field": "z", "type": "quantitative"}, "x": null}
    },
    {
      "data": {"name": "signal"},
      "mark": {"type": "line", "color": "#c8c8c8", "strokeWidth": 1},
      "encoding": {}
    },
    {
      "data": {"name": "signal"},
      "mark": {"type": "point", "shape": "triangle-down", "filled": true, "color": "#000000", "opacity": 1, "size": 60}
    },
    {
      "data": {"values": [{"e": 1713}]},
      "mark": {"type": "rule", "color": "#c2c87a", "strokeWidth": 1.2},
      "encoding": {"x": {"field": "e", "type": "quantitative"}, "y": null}
    },
    {
      "data": {"name": "notes"},
      "mark": {"type": "text", "align": "left", "baseline": "alphabetic", "font": "Liberation Sans", "fontSize": 16.5, "fontWeight": "bold", "color": "#111111"},
      "encoding": {"text": {"field": "t"}}
    }
  ],
  "config": {
    "view": {"stroke": null}
  }
}
